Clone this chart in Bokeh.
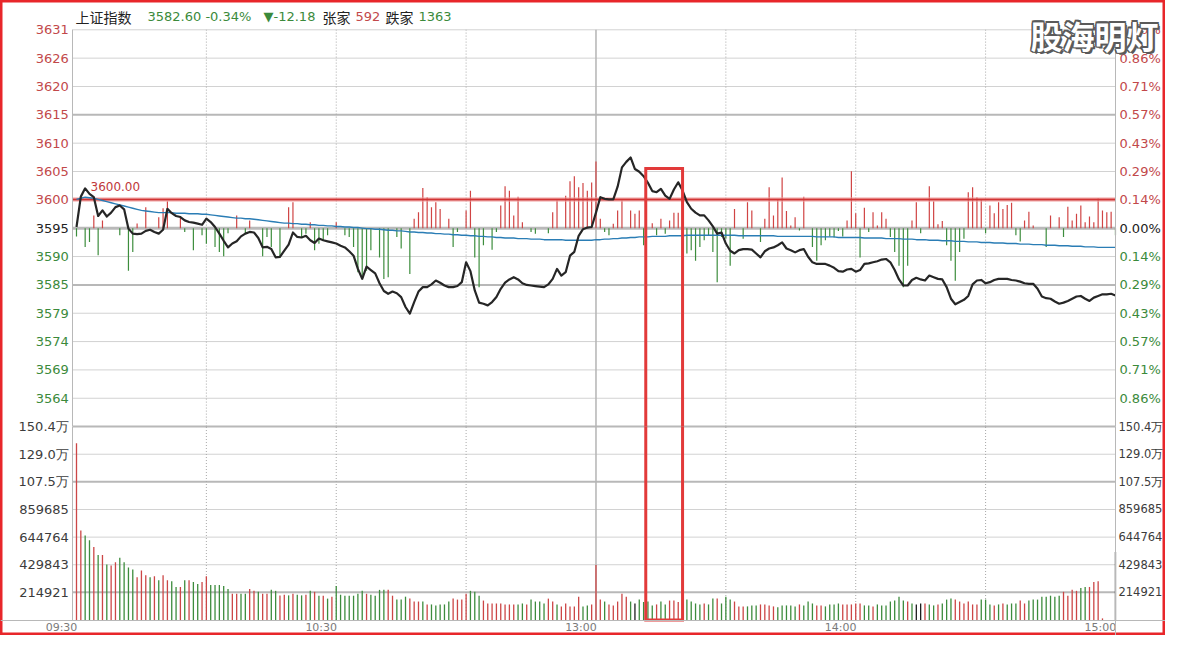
from bokeh.plotting import figure
from bokeh.models import Range1d, LinearAxis, FixedTicker, Label
from bokeh.embed import file_html
from bokeh.resources import INLINE

# ---------------- data ----------------
index_name = "上证指数"
last_price = 3582.60
pct_change = "-0.34%"
change_text = "▼-12.18"
up_label, up_count = "张家", "592"
down_label, down_count = "跌家", "1363"
prev_close = 3594.78
ref_level = 3600.00
watermark = "股海明灯"

time_ticks = [0, 60, 120, 180, 240]
time_labels = ["09:30", "10:30", "13:00", "14:00", "15:00"]
dotted_minutes = [30, 60, 90, 150, 180, 210]
session_break = [120]

price_tick_labels = ["3631", "3626", "3620", "3615", "3610", "3605", "3600",
                     "3595", "3590", "3585", "3579", "3574", "3569", "3564"]
pct_tick_labels = ["1.00%", "0.86%", "0.71%", "0.57%", "0.43%", "0.29%", "0.14%",
                   "0.00%", "0.14%", "0.29%", "0.43%", "0.57%", "0.71%", "0.86%"]
vol_step = 214921
vol_tick_labels = ["214921", "429843", "644764", "859685", "107.5万", "129.0万", "150.4万"]

price = [
    3595.0, 3600.5, 3602.0, 3601.0, 3600.4, 3597.0, 3598.0, 3596.9, 3597.6, 3598.6,
    3598.9, 3598.2, 3594.7, 3593.8, 3593.7, 3593.8, 3594.3, 3594.5, 3594.1, 3593.8,
    3594.5, 3598.3, 3597.5, 3597.0, 3596.8, 3596.2, 3595.9, 3595.8, 3595.6, 3595.4,
    3596.5, 3595.9, 3595.0, 3593.8, 3592.5, 3591.3, 3592.0, 3592.4, 3593.3, 3593.8,
    3594.1, 3594.0, 3593.0, 3591.3, 3591.4, 3591.0, 3589.5, 3589.6, 3590.7, 3591.8,
    3594.0, 3593.2, 3593.1, 3593.4, 3592.6, 3592.1, 3592.9, 3592.6, 3592.4, 3592.2,
    3592.0, 3591.6, 3591.3, 3590.6, 3589.8, 3587.4, 3585.6, 3587.8, 3587.2, 3586.6,
    3584.8, 3583.4, 3582.9, 3583.3, 3583.0, 3582.3, 3580.5, 3579.3, 3581.4, 3583.3,
    3584.1, 3584.1, 3584.6, 3585.3, 3584.9, 3584.4, 3584.1, 3584.1, 3584.3, 3585.0,
    3588.6, 3587.0, 3583.5, 3581.3, 3581.1, 3580.8, 3581.4, 3582.3, 3583.8, 3584.9,
    3585.5, 3585.9, 3585.5, 3584.8, 3584.5, 3584.4, 3584.3, 3584.2, 3584.1, 3584.6,
    3585.6, 3587.4, 3586.2, 3586.8, 3589.8, 3590.5, 3593.4, 3594.6, 3594.9, 3595.0,
    3597.6, 3600.4, 3600.1, 3600.0, 3600.0, 3602.3, 3605.8, 3606.8, 3607.6, 3605.5,
    3605.0, 3604.2, 3603.0, 3601.5, 3601.3, 3601.9, 3600.7, 3600.1, 3601.8, 3603.1,
    3601.6, 3599.5, 3598.3, 3597.6, 3597.1, 3597.1, 3596.2, 3595.1, 3593.8, 3594.0,
    3592.0, 3590.7, 3590.2, 3590.8, 3591.0, 3591.0, 3590.9, 3590.2, 3589.5, 3590.6,
    3591.1, 3591.3, 3591.7, 3592.2, 3591.1, 3590.8, 3590.4, 3590.8, 3591.0, 3589.6,
    3588.6, 3588.3, 3588.3, 3588.3, 3588.0, 3587.6, 3587.0, 3586.9, 3587.3, 3587.4,
    3586.9, 3587.2, 3588.3, 3588.4, 3588.6, 3588.8, 3589.1, 3589.2, 3588.6, 3587.2,
    3585.5, 3584.4, 3584.4, 3585.4, 3585.8, 3585.5, 3585.3, 3586.2, 3585.9, 3585.6,
    3585.5, 3584.1, 3582.0, 3581.0, 3581.4, 3581.8, 3582.5, 3584.6, 3585.3, 3585.4,
    3584.8, 3585.0, 3585.4, 3585.6, 3585.6, 3585.6, 3585.4, 3585.3, 3585.1, 3584.8,
    3584.7, 3584.7, 3583.8, 3582.4, 3582.1, 3582.0, 3581.5, 3581.1, 3581.3, 3581.6,
    3582.0, 3582.4, 3582.5, 3582.0, 3581.6, 3582.2, 3582.5, 3582.8, 3582.8, 3582.9, 3582.6,
]

avg_price = [
    3600.0, 3600.2, 3600.4, 3600.3, 3600.2, 3600.0, 3599.8, 3599.6, 3599.4, 3599.2,
    3599.0, 3598.8, 3598.6, 3598.4, 3598.2, 3598.0, 3597.9, 3597.8, 3597.7, 3597.6,
    3597.6, 3597.6, 3597.6, 3597.5, 3597.5, 3597.5, 3597.4, 3597.4, 3597.4, 3597.3,
    3597.3, 3597.2, 3597.1, 3597.0, 3596.9, 3596.8, 3596.7, 3596.6, 3596.6, 3596.5,
    3596.5, 3596.4, 3596.3, 3596.2, 3596.1, 3596.0, 3595.9, 3595.8, 3595.7, 3595.7,
    3595.6, 3595.6, 3595.5, 3595.5, 3595.4, 3595.4, 3595.3, 3595.3, 3595.2, 3595.2,
    3595.1, 3595.1, 3595.0, 3595.0, 3594.9, 3594.9, 3594.8, 3594.7, 3594.7, 3594.6,
    3594.6, 3594.5, 3594.4, 3594.4, 3594.3, 3594.3, 3594.2, 3594.1, 3594.1, 3594.0,
    3594.0, 3593.9, 3593.9, 3593.8, 3593.8, 3593.7, 3593.7, 3593.6, 3593.6, 3593.5,
    3593.5, 3593.4, 3593.4, 3593.3, 3593.3, 3593.2, 3593.2, 3593.1, 3593.1, 3593.0,
    3593.0, 3593.0, 3592.9, 3592.9, 3592.9, 3592.8, 3592.8, 3592.8, 3592.7, 3592.7,
    3592.7, 3592.7, 3592.7, 3592.6, 3592.6, 3592.6, 3592.6, 3592.6, 3592.6, 3592.6,
    3592.7, 3592.7, 3592.8, 3592.8, 3592.9, 3592.9, 3593.0, 3593.0, 3593.1, 3593.1,
    3593.2, 3593.2, 3593.2, 3593.3, 3593.3, 3593.3, 3593.3, 3593.4, 3593.4, 3593.4,
    3593.4, 3593.5, 3593.5, 3593.5, 3593.5, 3593.5, 3593.5, 3593.5, 3593.5, 3593.5,
    3593.5, 3593.5, 3593.5, 3593.4, 3593.4, 3593.4, 3593.4, 3593.4, 3593.4, 3593.4,
    3593.4, 3593.4, 3593.3, 3593.3, 3593.3, 3593.3, 3593.3, 3593.3, 3593.3, 3593.3,
    3593.3, 3593.2, 3593.2, 3593.2, 3593.2, 3593.2, 3593.1, 3593.1, 3593.1, 3593.1,
    3593.1, 3593.1, 3593.0, 3593.0, 3593.0, 3593.0, 3593.0, 3592.9, 3592.9, 3592.9,
    3592.9, 3592.8, 3592.8, 3592.8, 3592.7, 3592.7, 3592.7, 3592.6, 3592.6, 3592.6,
    3592.5, 3592.5, 3592.5, 3592.4, 3592.4, 3592.4, 3592.3, 3592.3, 3592.3, 3592.2,
    3592.2, 3592.2, 3592.1, 3592.1, 3592.1, 3592.0, 3592.0, 3592.0, 3591.9, 3591.9,
    3591.9, 3591.8, 3591.8, 3591.8, 3591.7, 3591.7, 3591.7, 3591.6, 3591.6, 3591.6,
    3591.5, 3591.5, 3591.5, 3591.4, 3591.4, 3591.4, 3591.3, 3591.3, 3591.3, 3591.3, 3591.3,
]

volume = [
    1375900, 695500, 657700, 619900, 567000, 506500, 506500, 430900, 423400, 448600,
    483800, 448600, 408200, 393100, 332600, 385600, 347800, 332600, 340200, 310000,
    347800, 310000, 302400, 257000, 257000, 310000, 310000, 294800, 279700, 294800,
    340200, 272200, 272200, 272200, 264600, 241900, 204100, 204100, 204100, 204100,
    241900, 226800, 219200, 204100, 204100, 234400, 226800, 191500, 196600, 191500,
    204100, 196600, 191500, 196600, 226800, 219200, 189000, 189000, 166300, 181400,
    264600, 196600, 189000, 189000, 189000, 204100, 226800, 204100, 196600, 189000,
    234400, 234400, 234400, 189000, 158800, 158800, 181400, 166300, 143600, 143600,
    143600, 121000, 121000, 113400, 121000, 121000, 143600, 166300, 158800, 158800,
    204100, 226800, 219200, 189000, 151200, 128500, 128500, 128500, 128500, 121000,
    121000, 121000, 121000, 128500, 121000, 158800, 143600, 143600, 128500, 166300,
    143600, 121000, 105800, 128500, 105800, 105800, 181400, 105800, 113400, 121000,
    428400, 158800, 143600, 121000, 113400, 143600, 204100, 181400, 143600, 128500,
    158800, 140000, 143600, 113400, 121000, 143600, 121000, 151200, 151200, 140000,
    158800, 158800, 143600, 128500, 121000, 128500, 121000, 166300, 166300, 128500,
    181400, 158800, 143600, 105800, 105800, 105800, 113400, 113400, 121000, 121000,
    113400, 105800, 98300, 113400, 113400, 113400, 105800, 121000, 113400, 143600,
    128500, 113400, 113400, 105800, 121000, 121000, 128500, 121000, 121000, 121000,
    128500, 128500, 113400, 113400, 105800, 121000, 113400, 113400, 143600, 151200,
    181400, 151200, 143600, 128500, 121000, 128500, 128500, 121000, 113400, 121000,
    128500, 158800, 166300, 158800, 143600, 128500, 143600, 121000, 121000, 158800,
    158800, 121000, 113400, 121000, 128500, 121000, 128500, 128500, 151200, 128500,
    151200, 158800, 158800, 181400, 181400, 189000, 181400, 189000, 219200, 189000,
    234400, 226800, 249500, 257000, 257000, 294800, 302400, 12600, 0, 0, 529200,
]

vol_color = ("rrggrgrgrr" "ggggrrrgrg" "rrggrgrggr" "rgggggrrgg" "rrgrrggrrg"
             "rggrgrgrgr" "gggggggrgg" "ggrrgggrrr" "grgggggrrr" "rgggrrrrrr"
             "rrggrggggr" "rgrrrrrggr" "rrgrrrrrgk" "ggggrggrrr" "gggggrggrg"
             "ggrrrgggrr" "rrgggggrgg" "grrggggrrr" "rrggrggggg" "ggrgkkrggr"
             "gggrrrrrrg" "ggrgrgggrr" "ggggggggrr" "rrggrrrrrrk")

force_minute = [4, 6, 14, 16, 19, 20, 21, 24, 37, 40, 49, 50, 54, 60, 78, 79, 80, 81, 82, 83,
                84, 86, 90, 91, 98, 99, 100, 101, 102, 103, 110, 111, 113, 114, 115, 116, 117,
                118, 119, 120, 121, 124, 125, 126, 128, 129, 130, 133, 135, 137, 138, 139, 152,
                155, 156, 159, 160, 161, 162, 163, 164, 165, 166, 168, 178, 179, 180, 182, 184,
                185, 186, 187, 193, 194, 197, 198, 199, 200, 206, 207, 208, 209, 211, 212, 213,
                214, 215, 216, 219, 220, 221, 225, 227, 229, 230, 231, 232, 233, 234, 235, 236,
                237, 238, 239,
                0, 2, 3, 5, 10, 12, 13, 25, 27, 29, 30, 32, 33, 34, 35, 39, 43, 44, 45, 47, 52,
                53, 55, 56, 57, 58, 62, 63, 64, 65, 66, 67, 68, 70, 71, 72, 74, 75, 77, 87, 88,
                92, 93, 94, 96, 97, 105, 106, 109, 122, 123, 131, 134, 136, 141, 142, 143, 144,
                145, 146, 147, 148, 149, 150, 151, 154, 158, 167, 170, 171, 172, 173, 174, 175,
                176, 177, 181, 183, 188, 189, 190, 191, 192, 195, 201, 202, 203, 204, 205, 210,
                217, 218, 224, 228, 240]
force_value = [2.3, 1.4, 0.85, 3.8, 2.0, 3.6, 4.9, 2.0, 2.3, 1.4, 3.8, 4.7, 1.1, 1.1, 1.7, 2.9,
               7.3, 5.6, 3.8, 4.7, 3.5, 1.7, 3.2, 6.8, 4.1, 7.6, 6.8, 2.3, 5.7, 1.1, 2.9, 5.0,
               5.9, 8.5, 9.4, 7.4, 8.2, 6.8, 8.3, 12.1, 1.7, 0.8, 3.2, 5.0, 3.2, 2.6, 3.2, 0.9,
               1.7, 1.4, 2.8, 2.8, 3.5, 4.7, 3.2, 1.7, 7.4, 2.3, 5.3, 9.2, 3.1, 0.5, 2.0, 5.7,
               1.4, 10.3, 2.7, 3.7, 2.9, 0.5, 2.9, 1.7, 1.4, 4.7, 7.6, 4.9, 0.7, 1.3, 6.5, 7.4,
               5.6, 5.3, 4.1, 2.7, 4.7, 3.5, 4.2, 4.6, 1.4, 3.0, 0.5, 2.3, 2.0, 3.9, 1.4, 2.6,
               4.1, 1.1, 2.1, 1.1, 5.4, 3.2, 2.9, 3.0,
               -1.5, -3.4, -2.5, -4.9, -1.3, -7.7, -4.3, -0.7, -4.0, -1.3, -2.8, -3.4, -4.3,
               -5.1, -0.9, -1.0, -5.1, -1.6, -3.4, -5.3, -1.6, -1.0, -4.0, -2.8, -2.2, -1.3,
               -1.3, -1.6, -3.4, -8.0, -8.6, -7.7, -4.0, -5.3, -9.2, -8.9, -1.6, -3.7, -8.3,
               -3.4, -0.7, -5.3, -10.7, -3.1, -3.9, -0.7, -0.7, -1.0, -0.9, -0.7, -1.3, -3.1,
               -1.3, -1.0, -4.6, -4.0, -5.9, -3.4, -2.2, -1.3, -4.3, -9.8, -1.6, -1.9, -6.8,
               -1.9, -2.5, -0.4, -3.4, -5.9, -3.1, -2.2, -1.5, -1.7, -0.5, -1.5, -5.3, -0.7,
               -1.6, -4.3, -6.8, -10.7, -6.8, -0.9, -3.1, -5.9, -9.5, -4.3, -1.9, -0.9, -1.3,
               -2.4, -3.4, -1.6, -1.3]

highlight_minutes = [131.5, 140.0]
highlight_top = 3605.6

assert len(price) == 241 and len(avg_price) == 241, (len(price), len(avg_price))
assert len(volume) == 241 and len(vol_color) == 241, (len(volume), len(vol_color))
assert len(force_minute) == len(force_value), (len(force_minute), len(force_value))

# ---------------- layout (pixel geometry) ----------------
W, H = 1165, 635
X_I0 = 76.0             # x of minute 0
PXM = 4.329             # px per minute
X_BORDER = 72.3         # x of left frame line
Y_PC = 227.7            # y of previous close
PX_PCT = 198.4          # px per 1 %
Y_V0 = 619.5            # y of zero volume
Y_VTOP = Y_PC + PX_PCT  # volume panel top = price panel bottom
PX_VSTEP = (Y_V0 - Y_VTOP) / 7.0

pp = prev_close * 0.01 / PX_PCT
vp = vol_step / PX_VSTEP


def rx(x):
    return (x - X_I0) / PXM


def ry(y):
    return prev_close + (Y_PC - y) * pp


def rv(y):
    return (Y_V0 - y) * vp


minutes = list(range(len(price)))
left_edge = rx(X_BORDER)
right_edge = float(minutes[-1])

p = figure(width=W, height=H, output_backend="svg", toolbar_location=None,
           x_range=Range1d(rx(0), rx(W)), y_range=Range1d(ry(H), ry(0)),
           x_axis_location=None, y_axis_location=None, min_border=0, title=None)
p.extra_y_ranges = {"vol": Range1d(rv(H), rv(0))}
for g in p.grid:
    g.visible = False
p.background_fill_color = "white"
p.border_fill_color = "white"
p.outline_line_color = "#e8262a"
p.outline_line_width = 4

RED, GREEN, BLACK = "#c2484a", "#3b8a3b", "#222222"
GRID, GRID_DARK = "#d2d2d2", "#b8b8b8"

ks = list(range(7, -7, -1))
price_ticks = [prev_close * (1 + k / 700.0) for k in ks]
p_top, p_bot = prev_close * 1.01, prev_close * 0.99
v_top = vol_step * 7
vol_ticks = [vol_step * k for k in range(1, 8)]

# horizontal grid – price panel
for k, t in zip(ks, price_ticks):
    if k == 0:
        continue
    thick = k in (4, -2)
    p.segment(x0=[left_edge], x1=[right_edge], y0=[t], y1=[t],
              line_color=GRID_DARK if thick else GRID, line_width=2 if thick else 1)
p.segment(x0=[left_edge], x1=[right_edge], y0=[prev_close], y1=[prev_close],
          line_color="#b9b9b9", line_width=3)
# horizontal grid – volume panel
for k, t in zip(range(1, 8), vol_ticks):
    thick = k in (1, 5, 7)
    p.segment(x0=[left_edge], x1=[right_edge], y0=[t], y1=[t], y_range_name="vol",
              line_color=GRID_DARK if thick else GRID, line_width=2 if thick else 1)

# vertical grid
n = len(dotted_minutes)
p.segment(x0=dotted_minutes, x1=dotted_minutes, y0=[p_bot] * n, y1=[p_top] * n,
          line_color="#a8a8a8", line_width=1, line_dash="1 2")
p.segment(x0=dotted_minutes, x1=dotted_minutes, y0=[0] * n, y1=[v_top] * n, y_range_name="vol",
          line_color="#a8a8a8", line_width=1, line_dash="1 2")
p.segment(x0=session_break, x1=session_break, y0=[p_bot], y1=[p_top],
          line_color="#b4b4b4", line_width=1.5)
p.segment(x0=session_break, x1=session_break, y0=[0], y1=[v_top], y_range_name="vol",
          line_color="#b4b4b4", line_width=1.5)

# buy / sell force bars
fcol = ["#d04444" if v > 0 else "#3d8d3d" for v in force_value]
p.segment(x0=force_minute, x1=force_minute, y0=[prev_close] * len(force_value),
          y1=[prev_close + v for v in force_value], line_color=fcol, line_width=1.2)

# 3600 reference line
p.segment(x0=[left_edge], x1=[right_edge], y0=[ref_level], y1=[ref_level],
          line_color="#f2a0a0", line_width=5, line_alpha=0.5)
p.segment(x0=[left_edge], x1=[right_edge], y0=[ref_level], y1=[ref_level],
          line_color="#d23434", line_width=2)

# average and price lines
p.line(minutes, avg_price, line_color="#2a7db5", line_width=1.4)
p.line(minutes, price, line_color="#262626", line_width=2.2, line_join="round")

# volume bars
cmap = {"r": "#cc4646", "g": "#3d8c3d", "k": "#1e1e1e"}
p.segment(x0=minutes, x1=minutes, y0=[0] * len(volume), y1=volume, y_range_name="vol",
          line_color=[cmap[c] for c in vol_color], line_width=1.3)

# highlight box
hl, hr = highlight_minutes
p.line([hl, hl, hr, hr], [p_bot, highlight_top, highlight_top, p_bot],
       line_color="#e23a3a", line_width=3, line_join="miter")
p.line([hl, hl, hr, hr], [v_top, 0, 0, v_top], y_range_name="vol",
       line_color="#e23a3a", line_width=3, line_join="miter")


# ---------------- axes ----------------
def yaxis(side, ticks, labels, color, loc, rng="default", bounds="auto", line=False,
          size="13px", standoff=4):
    ax = LinearAxis(y_range_name=rng, fixed_location=loc,
                    ticker=FixedTicker(ticks=list(ticks), minor_ticks=[]),
                    major_label_overrides={t: l for t, l in zip(ticks, labels)},
                    axis_line_color=GRID_DARK if line else None, axis_line_width=1,
                    bounds=bounds, major_tick_line_color=None, minor_tick_line_color=None,
                    major_tick_out=0, major_tick_in=0, major_label_standoff=standoff,
                    major_label_text_color=color, major_label_text_font="DejaVu Sans",
                    major_label_text_font_size=size)
    p.add_layout(ax, side)


def split(ticks, labels):
    up = [(t, l) for k, t, l in zip(ks, ticks, labels) if k > 0]
    zero = [(t, l) for k, t, l in zip(ks, ticks, labels) if k == 0]
    down = [(t, l) for k, t, l in zip(ks, ticks, labels) if k < 0]
    return up, zero, down


for side, labels, loc in (("left", price_tick_labels, left_edge), ("right", pct_tick_labels, right_edge)):
    up, zero, down = split(price_ticks, labels)
    yaxis(side, [t for t, _ in up], [l for _, l in up], RED, loc)
    yaxis(side, [t for t, _ in zero], [l for _, l in zero], BLACK, loc, bounds=(p_bot, p_top), line=True)
    yaxis(side, [t for t, _ in down], [l for _, l in down], GREEN, loc)

yaxis("left", vol_ticks, vol_tick_labels, "#3c3c3c", left_edge, rng="vol", bounds=(0, v_top), line=True)
yaxis("right", vol_ticks, vol_tick_labels, "#3c3c3c", right_edge, rng="vol",
      bounds=(rv(H), v_top), line=True, size="11.5px", standoff=3)

X_LABEL_SHIFT = 15.0 / PXM
xt = [t - X_LABEL_SHIFT for t in time_ticks]
xax = LinearAxis(y_range_name="vol", fixed_location=0,
                 ticker=FixedTicker(ticks=xt, minor_ticks=[]),
                 major_label_overrides={t: l for t, l in zip(xt, time_labels)},
                 axis_line_color=GRID_DARK, axis_line_width=1,
                 major_tick_line_color=None, minor_tick_line_color=None,
                 major_tick_out=0, major_tick_in=0, major_label_standoff=1,
                 major_label_text_color="#7a7a7a", major_label_text_font="DejaVu Sans",
                 major_label_text_font_size="11px")
p.add_layout(xax, "below")


# ---------------- texts ----------------
def put(x, y, text, color, font="DejaVu Sans", size="13px", align="left", style="normal",
        dx=0, dy=0):
    p.add_layout(Label(x=rx(x), y=ry(y), text=text, text_color=color, text_font=font,
                       text_font_size=size, text_align=align, text_baseline="middle",
                       text_font_style=style, x_offset=dx, y_offset=dy))


CJK = "Noto Sans CJK SC"
put(75, 16, index_name, BLACK, font=CJK, size="14px")
put(147, 16, f"{last_price:.2f} {pct_change}", GREEN)
put(263, 16, change_text, GREEN)
put(322, 16, up_label, BLACK, font=CJK, size="14px")
put(355, 16, up_count, RED)
put(385, 16, down_label, BLACK, font=CJK, size="14px")
put(418, 16, down_count, GREEN)

put(90, 186, f"{ref_level:.2f}", "#c0393b", size="12px")

# watermark: outlined white characters
WM_X, WM_Y = 1094, 34
for dx, dy in [(-1.6, 0), (1.6, 0), (0, -1.6), (0, 1.6), (-1.2, -1.2), (1.2, 1.2),
               (-1.2, 1.2), (1.2, -1.2), (2.2, -2.2)]:
    put(WM_X, WM_Y, watermark, "#5a5a5a", font=CJK, size="32px", align="center", style="bold",
        dx=dx, dy=dy)
put(WM_X, WM_Y, watermark, "#ffffff", font=CJK, size="32px", align="center", style="bold")

open("out.html", "w").write(file_html(p, INLINE))
